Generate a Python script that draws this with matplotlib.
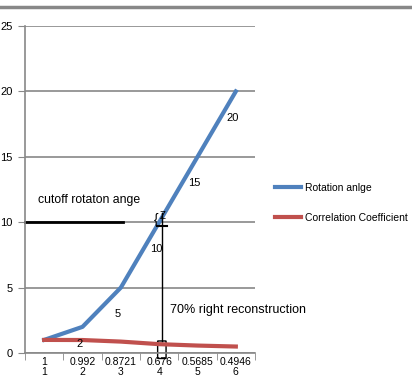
import numpy as np
import matplotlib.pyplot as plt
from matplotlib.lines import Line2D
from matplotlib.patches import FancyBboxPatch

# data
idx = [1, 2, 3, 4, 5, 6]
corr_labels = ['1', '0.992', '0.8721', '0.676', '0.5685', '0.4946']
rotation = [1, 2, 5, 10, 15, 20]
correlation = [1, 0.992, 0.8721, 0.676, 0.5685, 0.4946]

plt.rcParams['font.family'] = ['Liberation Sans', 'DejaVu Sans']

fig = plt.figure(figsize=(4.12, 3.82), dpi=100)
ax = fig.add_axes([25/412, 1-353/382, 230/412, (353-26)/382])

x = np.arange(len(idx))
blue, = ax.plot(x, rotation, color='#4F81BD', lw=3, label='Rotation anlge')
red, = ax.plot(x, correlation, color='#C0504D', lw=3, label='Correlation Coefficient')

# data labels under the blue line
for i in range(1, len(x)):
    dy = -12 if i == 1 else -19
    ax.annotate(str(rotation[i]), (x[i], rotation[i]), xytext=(-2, dy),
                textcoords='offset points', ha='center', va='center', fontsize=8)

ax.set_xlim(-0.5, 5.5)
ax.set_ylim(0, 25)
ax.set_yticks([0, 5, 10, 15, 20, 25])
ax.yaxis.grid(True, color='#888888', lw=1.2)
ax.set_axisbelow(True)
ax.set_xticks(x)
ax.set_xticklabels([c + '\n' + str(i) for c, i in zip(corr_labels, idx)], fontsize=7.5, linespacing=0.95)
ax.set_xticks(np.arange(-0.5, 6, 1), minor=True)
ax.tick_params(axis='x', which='major', length=0, pad=3)
ax.tick_params(axis='x', which='minor', length=5, color='#888888')
ax.tick_params(axis='y', length=5, color='#888888', labelsize=8, pad=4)
for s in ['top', 'right']:
    ax.spines[s].set_visible(False)
for s in ['left', 'bottom']:
    ax.spines[s].set_color('#888888')
    ax.spines[s].set_linewidth(1.2)

# annotations
ax.plot([-0.5, 2.06], [10, 10], color='black', lw=2, clip_on=False)
ax.plot([3.07, 3.07], [0.9, 10.7], color='black', lw=1)
ax.plot([2.95, 3.2], [9.7, 9.7], color='black', lw=1.5)
ax.text(2.92, 10.2, '{', fontsize=10, ha='center', va='center')
ax.text(3.08, 10.5, 'Z', fontsize=7, ha='center', va='center')
ax.add_patch(FancyBboxPatch((2.98, -0.4), 0.18, 1.3, boxstyle='round,pad=0.02',
                            fill=False, ec='black', lw=1, clip_on=False))
ax.text(-0.17, 11.7, 'cutoff rotaton ange', fontsize=8.8, ha='left', va='center')
ax.text(3.28, 3.3, '70% right reconstruction', fontsize=9, ha='left', va='center')

fig.legend(handles=[blue, red], loc='center left', bbox_to_anchor=(266/412, 1-203/382),
           frameon=False, fontsize=7.5, handlelength=2.5, handletextpad=0.3, labelspacing=1.9)

fig.add_artist(Line2D([0, 1], [1-7/382, 1-7/382], color='#888888', lw=2.5))

fig.savefig('out.png', dpi=100)
